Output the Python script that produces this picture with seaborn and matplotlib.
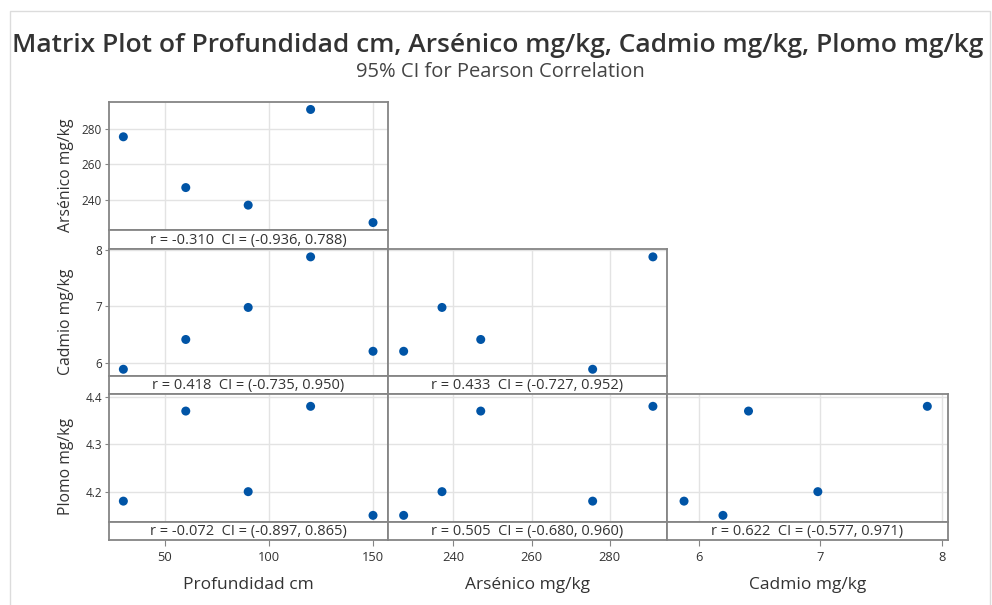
import pandas as pd
import seaborn as sns
import matplotlib.pyplot as plt
from matplotlib.patches import Rectangle

# data (5 samples)
profundidad = [30, 60, 90, 120, 150]
arsenico = [275.6, 247.0, 237.1, 291.0, 227.3]
cadmio = [5.88, 6.41, 6.98, 7.88, 6.20]
plomo = [4.18, 4.37, 4.20, 4.38, 4.15]

x_vars = ["Profundidad cm", "Arsénico mg/kg", "Cadmio mg/kg"]
y_vars = ["Arsénico mg/kg", "Cadmio mg/kg", "Plomo mg/kg"]
x_ticks = [[50, 100, 150], [240, 260, 280], [6, 7, 8]]
y_ticks = [[240, 260, 280], [6, 7, 8], [4.2, 4.3, 4.4]]
x_lims = [(23.1, 157.2), (223.3, 294.6), (5.74, 8.05)]
y_lims = [(223.1, 295.2), (5.76, 8.02), (4.136, 4.406)]

# r / CI labels, keyed by (row, col)
ci_labels = {
    (0, 0): "r = -0.310  CI = (-0.936, 0.788)",
    (1, 0): "r = 0.418  CI = (-0.735, 0.950)",
    (1, 1): "r = 0.433  CI = (-0.727, 0.952)",
    (2, 0): "r = -0.072  CI = (-0.897, 0.865)",
    (2, 1): "r = 0.505  CI = (-0.680, 0.960)",
    (2, 2): "r = 0.622  CI = (-0.577, 0.971)",
}

df = pd.DataFrame({
    "Profundidad cm": profundidad,
    "Arsénico mg/kg": arsenico,
    "Cadmio mg/kg": cadmio,
    "Plomo mg/kg": plomo,
})

sns.set_style("white")
plt.rcParams["font.family"] = ["Open Sans", "DejaVu Sans"]

W, H = 992, 605
fig = plt.figure(figsize=(W / 100, H / 100), dpi=100)
fig.patches.append(Rectangle((10 / W, -0.01), 980 / W, 1 - 11 / H + 0.01,
                             transform=fig.transFigure, fill=False,
                             edgecolor="#dcdcdc", linewidth=1))

def box(x0, x1, y0, y1):
    return [x0 / W, 1 - y1 / H, (x1 - x0) / W, (y1 - y0) / H]

col_px = [(109, 388), (388, 667), (667, 948)]
row_px = [(102, 230, 249), (249, 376, 394), (394, 522, 540)]
edge = "#858585"
txt = "#333333"

for r in range(3):
    for c in range(r + 1):
        x0, x1 = col_px[c]
        top, mid, bot = row_px[r]
        ax = fig.add_axes(box(x0, x1, top, mid))
        sax = fig.add_axes(box(x0, x1, mid, bot), sharex=ax)
        sns.scatterplot(data=df, x=x_vars[c], y=y_vars[r], ax=ax,
                        color="#0054a6", s=42, edgecolor="none", zorder=3)
        ax.set_xlim(x_lims[c])
        ax.set_ylim(y_lims[r])
        ax.set_xticks(x_ticks[c])
        ax.set_yticks(y_ticks[r])
        ax.grid(True, color="#e3e3e3", linewidth=1)
        ax.set_xlabel("")
        ax.set_ylabel("")
        ax.tick_params(axis="x", bottom=False, labelbottom=False)
        if c == 0:
            ax.tick_params(axis="y", left=True, length=3, color=edge,
                           labelsize=8.5, labelcolor=txt, pad=2)
            ax.set_ylabel(y_vars[r], fontsize=11.3, color=txt)
            ax.yaxis.set_label_coords(-0.125, 0.43)
        else:
            ax.tick_params(axis="y", left=False, labelleft=False)
        sax.set_yticks([])
        sax.text(0.5, 0.45, ci_labels[(r, c)], transform=sax.transAxes,
                 ha="center", va="center", fontsize=10.5, color=txt)
        if r == 2:
            sax.tick_params(axis="x", bottom=True, length=4, color=edge,
                            labelsize=9.3, labelcolor=txt, pad=4)
            sax.set_xlabel(x_vars[c], fontsize=12.5, color=txt, labelpad=9)
        else:
            sax.tick_params(axis="x", bottom=False, labelbottom=False)
        for a in (ax, sax):
            for sp in a.spines.values():
                sp.set_color(edge)
                sp.set_linewidth(1.3)

fig.text(498 / W, 1 - 45 / H,
         "Matrix Plot of Profundidad cm, Arsénico mg/kg, Cadmio mg/kg, Plomo mg/kg",
         ha="center", va="center", fontsize=19, fontweight="semibold", color=txt)
fig.text(500 / W, 1 - 72 / H, "95% CI for Pearson Correlation",
         ha="center", va="center", fontsize=14.5, color="#444444")

plt.savefig("out.png", dpi=100)
